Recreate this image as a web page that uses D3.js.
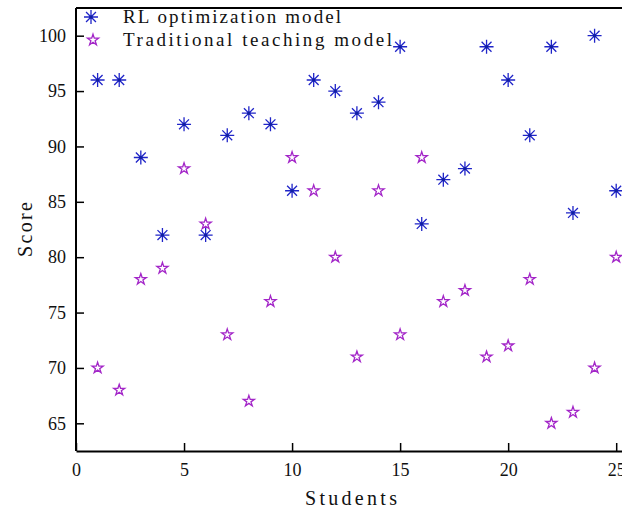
<!DOCTYPE html>
<html><head><meta charset="utf-8">
<script src="https://cdn.jsdelivr.net/npm/d3@7/dist/d3.min.js"></script>
<style>html,body{margin:0;padding:0;background:#fff;overflow:hidden}svg{display:block}</style>
</head><body>
<svg id="c" width="622" height="510"></svg>
<script>
const students = d3.range(1, 26);
const rlScores = [96,96,89,82,92,82,91,93,92,86,96,95,93,94,99,83,87,88,99,96,91,99,84,100,86];
const tradScores = [70,68,78,79,88,83,73,67,76,89,86,80,71,86,73,89,76,77,71,72,78,65,66,70,80];
const xTicks = [0,5,10,15,20,25];
const yTicks = [65,70,75,80,85,90,95,100];
const seriesNames = ["RL optimization model","Traditional teaching model"];

const svg = d3.select("#c");
const L = 76, R = 627, T = 8, B = 451;
const x = d3.scaleLinear().domain([0, 25.5]).range([L, R]);
const y = d3.scaleLinear().domain([62.5, 102.5]).range([B, T]);
const blue = "#1f24c8", purple = "#a326c8";
const serif = "'Liberation Serif', 'Times New Roman', serif";

// axes
const xa = svg.append("g").attr("transform", `translate(0,${B})`)
  .call(d3.axisBottom(x).tickValues(xTicks).tickSize(-8).tickPadding(12).tickSizeOuter(0));
const ya = svg.append("g").attr("transform", `translate(${L},0)`)
  .call(d3.axisLeft(y).tickValues(yTicks).tickSize(-8).tickPadding(10).tickSizeOuter(0));
[xa, ya].forEach(a => {
  a.select(".domain").attr("stroke", "#000").attr("stroke-width", 2);
  a.selectAll(".tick line").attr("stroke", "#000").attr("stroke-width", 1.5);
  a.selectAll(".tick text").attr("font-family", serif).attr("font-size", 18).attr("fill", "#111");
});
ya.select(".domain").attr("d", `M0,${T}V${B}`);
svg.append("line").attr("x1", L).attr("x2", 622).attr("y1", T).attr("y2", T)
  .attr("stroke", "#000").attr("stroke-width", 2);

// labels
svg.append("text").attr("x", 305).attr("y", 505).attr("textLength", 92).attr("lengthAdjust", "spacing")
  .attr("font-family", serif).attr("font-size", 20).attr("fill", "#111").text("Students");
svg.append("text").attr("transform", "translate(32,257) rotate(-90)").attr("textLength", 55).attr("lengthAdjust", "spacing")
  .attr("font-family", serif).attr("font-size", 20).attr("fill", "#111").text("Score");

function asterisk(g, cx, cy, r) {
  const d = [];
  for (let k = 0; k < 4; k++) {
    const a = k * Math.PI / 4;
    d.push(`M${cx - r*Math.cos(a)},${cy - r*Math.sin(a)}L${cx + r*Math.cos(a)},${cy + r*Math.sin(a)}`);
  }
  g.append("path").attr("d", d.join("")).attr("stroke", blue).attr("stroke-width", 1.3).attr("fill", "none");
  g.append("circle").attr("cx", cx).attr("cy", cy).attr("r", 1.6).attr("fill", "#1020a0");
}
const starSym = d3.symbol().type(d3.symbolStar).size(38);
function star(g, cx, cy) {
  g.append("path").attr("d", starSym()).attr("transform", `translate(${cx},${cy})`)
    .attr("fill", "#fff").attr("stroke", purple).attr("stroke-width", 1.3);
}

const gT = svg.append("g");
students.forEach((s, i) => star(gT, x(s), y(tradScores[i])));
const gR = svg.append("g");
students.forEach((s, i) => asterisk(gR, x(s), y(rlScores[i]), 7));

// legend
const lg = svg.append("g");
asterisk(lg, 91, 17, 7);
star(lg, 93, 40);
const lens = [218, 269];
lg.selectAll("text").data(seriesNames).join("text")
  .attr("x", 123).attr("y", (d, i) => 23 + i * 23)
  .attr("textLength", (d, i) => lens[i]).attr("lengthAdjust", "spacing")
  .attr("font-family", serif).attr("font-size", 19).attr("fill", "#111")
  .text(d => d);
</script>
</body></html>
